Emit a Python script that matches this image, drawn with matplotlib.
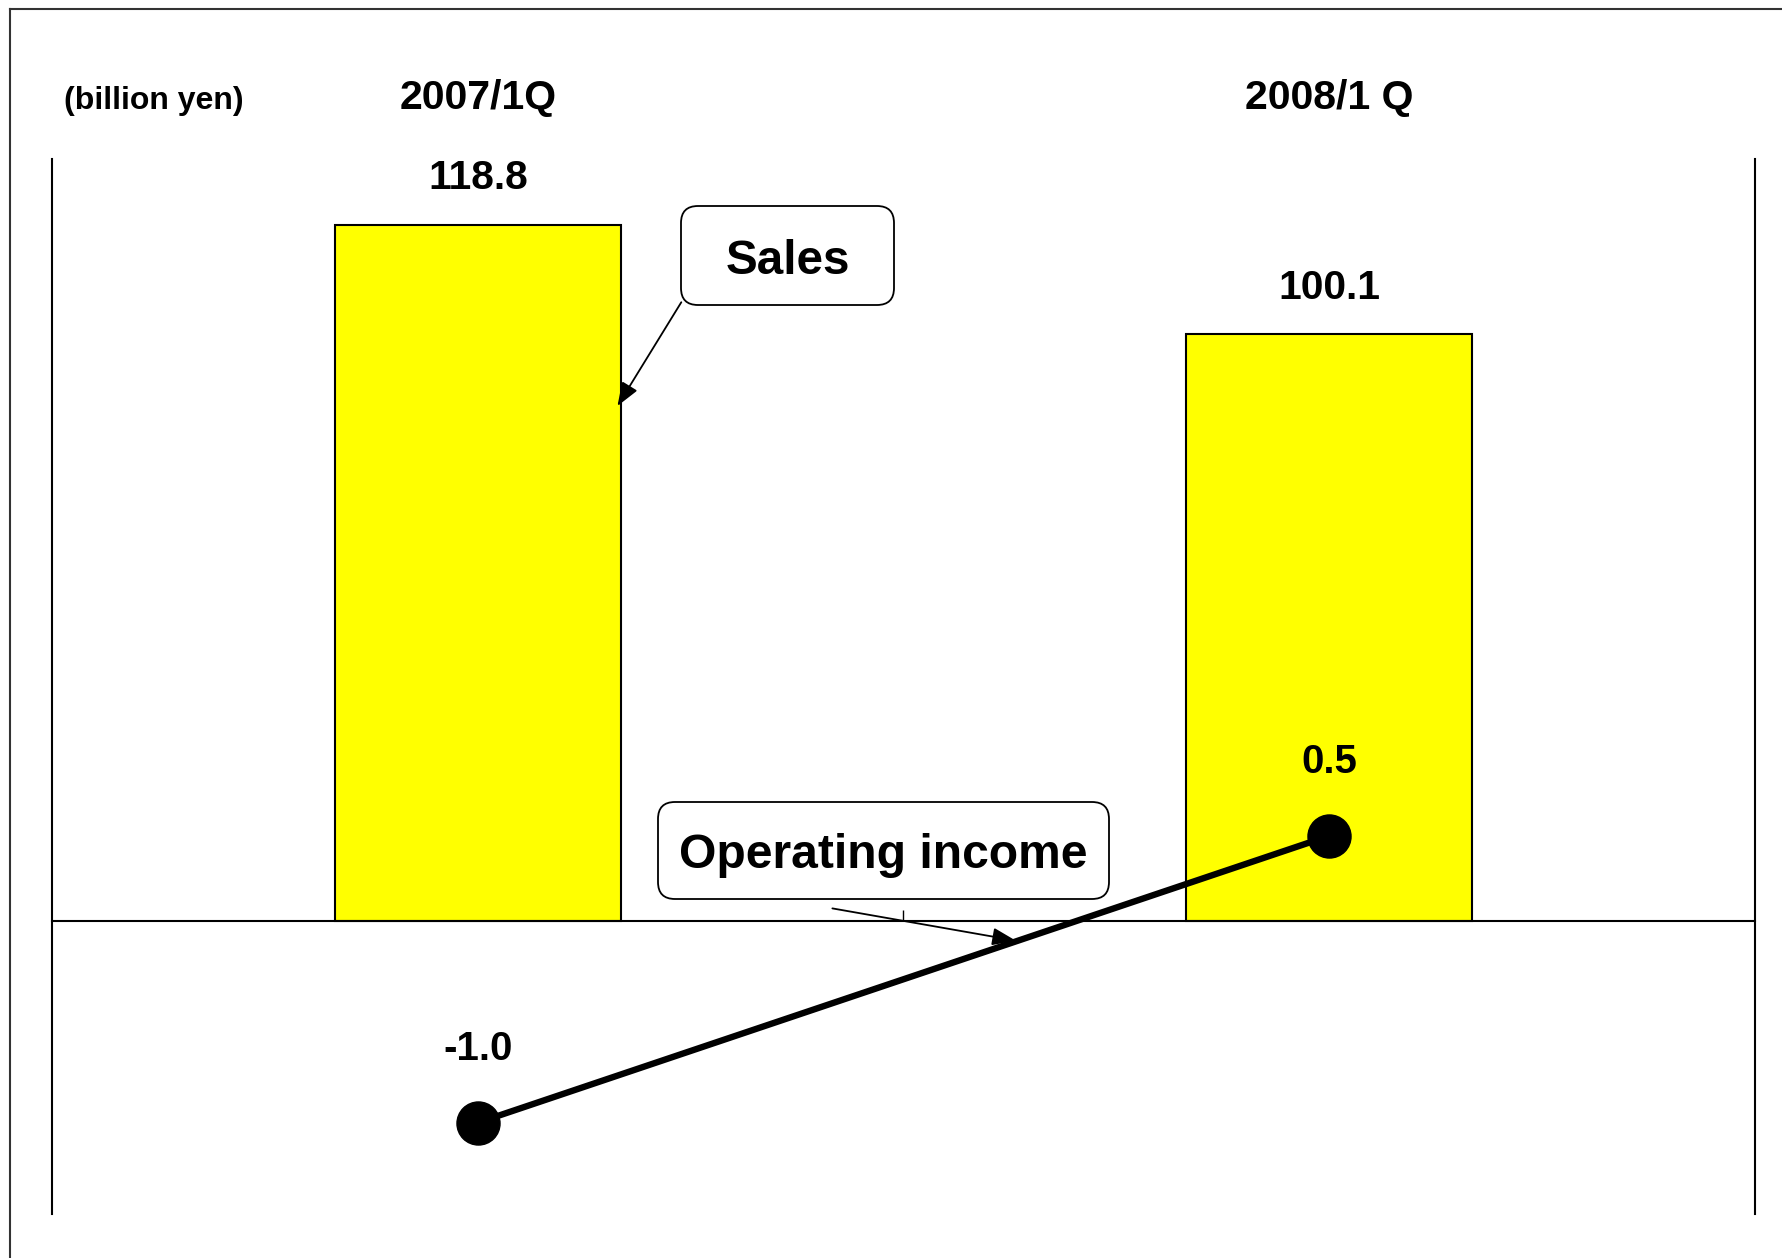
import numpy as np
import matplotlib
matplotlib.use("Agg")
import matplotlib.pyplot as plt
from matplotlib.patches import FancyBboxPatch
from matplotlib.lines import Line2D

# quarterly figures, billion yen
periods = ["2007/1Q", "2008/1 Q"]
sales = [118.8, 100.1]
operating_income = [-1.0, 0.5]
sales_labels = ["118.8", "100.1"]
income_labels = ["-1.0", "0.5"]

plt.rcParams['font.family'] = ['Liberation Sans', 'DejaVu Sans']
plt.rcParams['font.weight'] = 'bold'

W, H = 1783, 1258
fig = plt.figure(figsize=(W / 100, H / 100), dpi=100)

# outer frame (only top and left edges fall inside the canvas)
fig.add_artist(Line2D([10 / W, 1.0], [1 - 9 / H, 1 - 9 / H], color='#333333', lw=1.5,
                      transform=fig.transFigure))
fig.add_artist(Line2D([10 / W, 10 / W], [0.0, 1 - 9 / H], color='#333333', lw=1.5,
                      transform=fig.transFigure))

ax = fig.add_axes([52.3 / W, 1 - 1214.4 / H, (1754.6 - 52.3) / W, (1214.4 - 159.2) / H])
x = np.arange(len(periods))
ax.bar(x, sales, width=0.336, color='#ffff00', edgecolor='black', linewidth=1.5, zorder=2)
ax.set_xlim(-0.5, 1.5)
ax.set_ylim(-50, 130)

ax.spines['top'].set_visible(False)
ax.spines['bottom'].set_position(('data', 0))
for side in ['left', 'right', 'bottom']:
    ax.spines[side].set_linewidth(1.5)
ax.set_yticks([])
ax.set_xticks([0.5])
ax.tick_params(axis='x', direction='in', length=8, width=1, labelbottom=False)

for xi, v, lab in zip(x, sales, sales_labels):
    ax.annotate(lab, (xi, v), xytext=(0, 33.5), textcoords='offset points',
                ha='center', va='center', fontsize=29.3, fontweight='bold')

for xi, p in zip(x, periods):
    ax.text(xi, 1.058, p, transform=ax.get_xaxis_transform(),
            ha='center', va='center', fontsize=29.5, fontweight='bold')

fig.text(153.5 / W, 1 - 101 / H, "(billion yen)", ha='center', va='center',
         fontsize=23, fontweight='bold')

# operating income on its own scale
ax2 = ax.twinx()
ax2.set_ylim(-1.48, 4.04)
for s in ax2.spines.values():
    s.set_visible(False)
ax2.set_yticks([])
ax2.plot(x, operating_income, color='black', lw=4.6, marker='o', ms=31, zorder=3)
for xi, v, lab in zip(x, operating_income, income_labels):
    ax2.annotate(lab, (xi, v), xytext=(0, 53), textcoords='offset points',
                 ha='center', va='center', fontsize=29, fontweight='bold')


def callout(x0, y0, x1, y1, text, size):
    box = FancyBboxPatch((x0 / 100, (H - y1) / 100), (x1 - x0) / 100, (y1 - y0) / 100,
                         boxstyle='round,pad=0,rounding_size=0.17',
                         transform=fig.dpi_scale_trans, facecolor='white',
                         edgecolor='black', lw=1.3)
    fig.add_artist(box)
    fig.text((x0 + x1) / 2 / W, 1 - ((y0 + y1) / 2 + 5.5) / H, text, ha='center',
             va='center', fontsize=size, fontweight='bold')


callout(681, 206, 894, 305, "Sales", 34.3)
callout(658, 802, 1109, 899, "Operating income", 34.6)

arrow = dict(arrowstyle='-|>,head_length=0.4,head_width=0.15', color='black', lw=1.3,
             mutation_scale=36, shrinkA=0, shrinkB=0)
ax.annotate('', xy=(0.164, 87.9), xytext=(0.239, 105.6), arrowprops=arrow)
ax.annotate('', xy=(0.632, -3.3), xytext=(0.4165, 2.2), arrowprops=arrow)

fig.savefig("out.png", dpi=100)
